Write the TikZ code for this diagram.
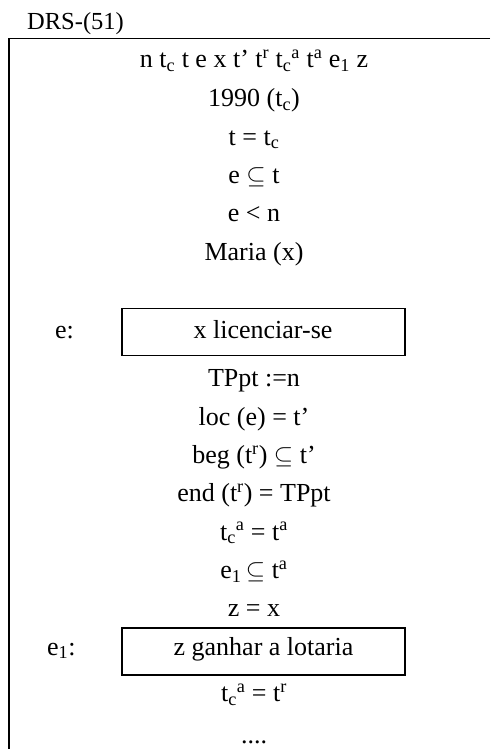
\documentclass[tikz,border=0pt]{standalone}
\usepackage{fontspec}
\setmainfont{Liberation Serif}
\newcommand{\sbs}[1]{\textsubscript{#1}}
\newcommand{\sps}[1]{\textsuperscript{#1}}
\newcommand{\sseq}{\ensuremath{\subseteq}}
\tikzset{
  drstext/.style={anchor=base, inner sep=0pt, font=\fontsize{26}{30}\selectfont},
  drslabel/.style={anchor=base west, inner sep=0pt, font=\fontsize{26}{30}\selectfont},
  subbox/.style={draw, line width=1.5pt, minimum width=283pt, minimum height=47pt, inner sep=0pt},
  frameline/.style={line width=1.6pt}
}
\begin{document}
\begin{tikzpicture}[x=1pt,y=-1pt]
\useasboundingbox (0,0) rectangle (490,749);
% title
\node[anchor=base west, inner sep=0pt, font=\fontsize{24.5}{28}\selectfont] (title) at (27,29.5) {DRS-(51)};
% frame
\coordinate (tr) at (490,38.5);
\coordinate (tl) at (9,38.5);
\coordinate (bl) at (9,749);
\draw[frameline] (tr) -- (tl) -- (bl);
% conditions
\def\cx{254}
\node[drstext] (r1) at (\cx,68) {n t\sbs{c} t e x t’ t\sps{r} t\sbs{c}\sps{a} t\sps{a} e\sbs{1} z};
\node[drstext] (r2) at (\cx,106.5) {1990 (t\sbs{c})};
\node[drstext] (r3) at (\cx,145) {t = t\sbs{c}};
\node[drstext] (r4) at (\cx,183.3) {e \sseq{} t};
\node[drstext] (r5) at (\cx,221.6) {e < n};
\node[drstext] (r6) at (\cx,260) {Maria (x)};
% e box
\node[subbox] (ebox) at (263.5,332) {};
\node[drstext] (etext) at (263,338.3) {x licenciar-se};
\node[drslabel] (elabel) at (55,338.3) {e:};
\node[drstext] (r7) at (\cx,386.7) {TPpt :=n};
\node[drstext] (r8) at (\cx,425) {loc (e) = t’};
\node[drstext] (r9) at (\cx,463.3) {beg (t\sps{r}) \sseq{} t’};
\node[drstext] (r10) at (\cx,501.7) {end (t\sps{r}) = TPpt};
\node[drstext] (r11) at (\cx,540) {t\sbs{c}\sps{a} = t\sps{a}};
\node[drstext] (r12) at (\cx,578.3) {e\sbs{1}\,\sseq{} t\sps{a}};
\node[drstext] (r13) at (\cx,616.7) {z = x};
% e1 box
\node[subbox] (e1box) at (263.5,651.5) {};
\node[drstext] (e1text) at (263.5,655) {z ganhar a lotaria};
\node[drslabel] (e1label) at (47,655) {e\sbs{1}:};
\node[drstext] (r14) at (\cx,701.7) {t\sbs{c}\sps{a} = t\sps{r}};
\node[drstext] (r15) at (\cx,743.5) {....};
\end{tikzpicture}
\end{document}
